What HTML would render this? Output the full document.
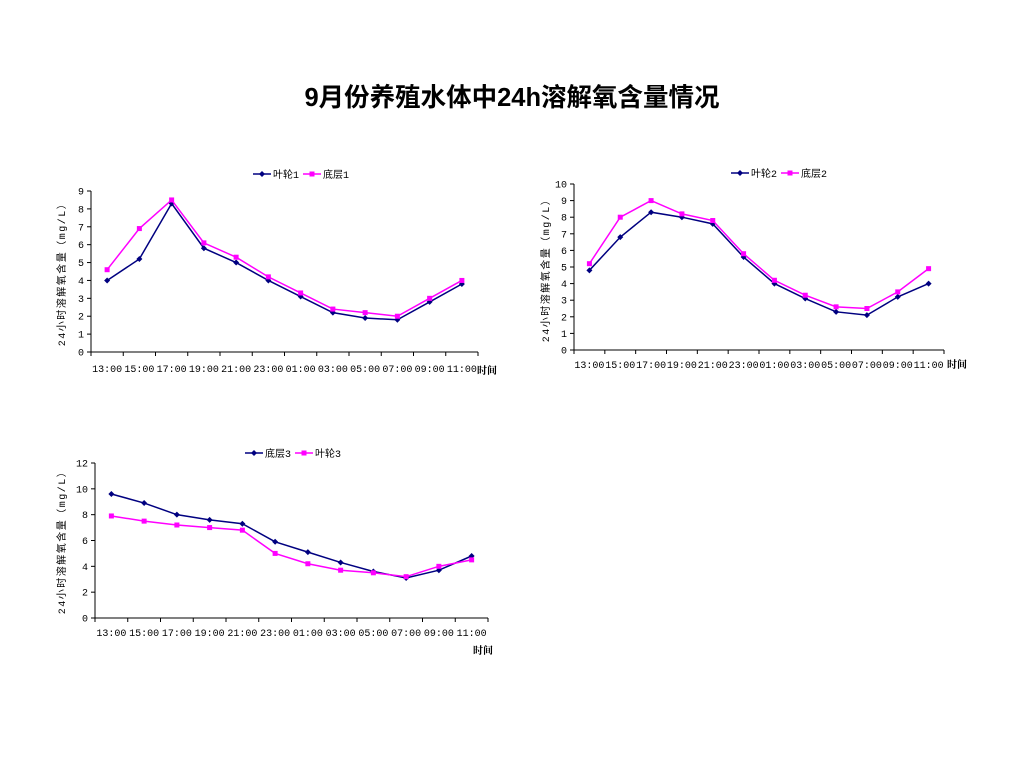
<!DOCTYPE html>
<html><head><meta charset="utf-8"><style>
body{margin:0;background:#fff;width:1024px;height:768px;overflow:hidden}
svg text{font-family:"Liberation Serif","Noto Serif CJK SC","Noto Sans CJK SC",serif}
svg text.mono{font-family:"Liberation Mono","Noto Sans CJK SC",monospace}
</style></head><body>
<svg id="svg" width="1024" height="768">
<text x="512" y="106" text-anchor="middle" font-size="25.5" font-weight="bold" style="font-family:'Liberation Sans','Noto Sans CJK SC',sans-serif">9月份养殖水体中24h溶解氧含量情况</text>
</svg>
<script>
const categories=["13:00","15:00","17:00","19:00","21:00","23:00","01:00","03:00","05:00","07:00","09:00","11:00"];
const impeller1=[4.0,5.2,8.3,5.8,5.0,4.0,3.1,2.2,1.9,1.8,2.8,3.8];
const bottom1=[4.6,6.9,8.5,6.1,5.3,4.2,3.3,2.4,2.2,2.0,3.0,4.0];
const impeller2=[4.8,6.8,8.3,8.0,7.6,5.6,4.0,3.1,2.3,2.1,3.2,4.0];
const bottom2=[5.2,8.0,9.0,8.2,7.8,5.8,4.2,3.3,2.6,2.5,3.5,4.9];
const bottom3=[9.6,8.9,8.0,7.6,7.3,5.9,5.1,4.3,3.6,3.1,3.7,4.8];
const impeller3=[7.9,7.5,7.2,7.0,6.8,5.0,4.2,3.7,3.5,3.2,4.0,4.5];
const yTicks1=[0,1,2,3,4,5,6,7,8,9];
const yTicks2=[0,1,2,3,4,5,6,7,8,9,10];
const yTicks3=[0,2,4,6,8,10,12];
const NS="http://www.w3.org/2000/svg";
const svg=document.getElementById('svg');
function mk(tag,attrs,parent){const e=document.createElementNS(NS,tag);for(const k in attrs)e.setAttribute(k,attrs[k]);(parent||svg).appendChild(e);return e;}
function chart(cfg){
  const g=mk('g',{});
  
  
  const n=categories.length,cw=(cfg.x1-cfg.x0)/n;
  const xs=i=>cfg.x0+cw*(i+0.5);
  const ymax=cfg.yTicks[cfg.yTicks.length-1];
  const ys=v=>cfg.y0-(v/ymax)*(cfg.y0-cfg.yTop);
  const ax=mk('line',{x1:cfg.x0,y1:cfg.yTop,x2:cfg.x0,y2:cfg.y0,stroke:'#000','stroke-width':1},g);
  
  const bx=mk('line',{x1:cfg.x0,y1:cfg.y0,x2:cfg.x1,y2:cfg.y0,stroke:'#000','stroke-width':1},g);
  
  cfg.yTicks.forEach(t=>{
    const y=ys(t);
    mk('line',{x1:cfg.x0-4,y1:y,x2:cfg.x0,y2:y,stroke:'#000'},g);
    const tx=mk('text',{x:cfg.x0-7,y:y+3.5,'text-anchor':'end','font-size':10,class:'mono'},g);
    
    tx.textContent=t;
  });
  for(let i=0;i<=n;i++){const x=cfg.x0+cw*i;mk('line',{x1:x,y1:cfg.y0,x2:x,y2:cfg.y0+4,stroke:'#000'},g);}
  categories.forEach((c,i)=>{
    const tx=mk('text',{x:xs(i),y:cfg.labelY,'text-anchor':'middle','font-size':10,class:'mono'},g);
    
    tx.textContent=c;
  });
  const xt=mk('text',{x:cfg.xtX,y:cfg.xtY,'font-size':10,'font-weight':'bold'},g);
  
  xt.textContent='时间';
  const yt=mk('text',{x:0,y:0,'text-anchor':'middle','font-size':10,class:'mono',transform:`translate(${cfg.ytX},${cfg.ytY}) rotate(-90)`,'letter-spacing':'1.5'},g);
  
  yt.textContent='24小时溶解氧含量（mg/L）';
  cfg.series.forEach((s,si)=>{
    const pts=s.data.map((v,i)=>xs(i)+','+ys(v)).join(' ');
    const pl=mk('polyline',{points:pts,fill:'none',stroke:s.color,'stroke-width':1.5},g);
    
    s.data.forEach((v,i)=>{
      const m=s.marker==='sq'?mk('rect',{x:xs(i)-2.5,y:ys(v)-2.5,width:5,height:5,fill:s.color},g)
        :mk('polygon',{points:`${xs(i)},${ys(v)-3} ${xs(i)+3},${ys(v)} ${xs(i)},${ys(v)+3} ${xs(i)-3},${ys(v)}`,fill:s.color},g);
      
    });
    const lx=cfg.legX+si*50, ly=cfg.legY;
    const lg=mk('g',{},g);
    
    mk('line',{x1:lx,y1:ly,x2:lx+18,y2:ly,stroke:s.color,'stroke-width':1.5},lg);
    if(s.marker==='sq')mk('rect',{x:lx+6.5,y:ly-2.5,width:5,height:5,fill:s.color},lg);
    else mk('polygon',{points:`${lx+9},${ly-3} ${lx+12},${ly} ${lx+9},${ly+3} ${lx+6},${ly}`,fill:s.color},lg);
    const lt=mk('text',{x:lx+20,y:ly+4,'font-size':10,class:'mono'},lg);lt.textContent=s.label;
  });
}
chart({name:'chart-1',x0:91,x1:478,y0:352,yTop:191,yTicks:yTicks1,labelY:372,xtX:477,xtY:374,ytX:65,ytY:272,legX:253,legY:174,
  series:[{label:'叶轮1',data:impeller1,color:'#000080',marker:'d'},{label:'底层1',data:bottom1,color:'#FF00FF',marker:'sq'}]});
chart({name:'chart-2',x0:574,x1:944,y0:350,yTop:184,yTicks:yTicks2,labelY:368,xtX:947,xtY:368,ytX:549,ytY:268,legX:731,legY:173,
  series:[{label:'叶轮2',data:impeller2,color:'#000080',marker:'d'},{label:'底层2',data:bottom2,color:'#FF00FF',marker:'sq'}]});
chart({name:'chart-3',x0:95,x1:488,y0:618,yTop:463,yTicks:yTicks3,labelY:636,xtX:473,xtY:654,ytX:65,ytY:540,legX:245,legY:453,
  series:[{label:'底层3',data:bottom3,color:'#000080',marker:'d'},{label:'叶轮3',data:impeller3,color:'#FF00FF',marker:'sq'}]});
</script>
</body></html>
